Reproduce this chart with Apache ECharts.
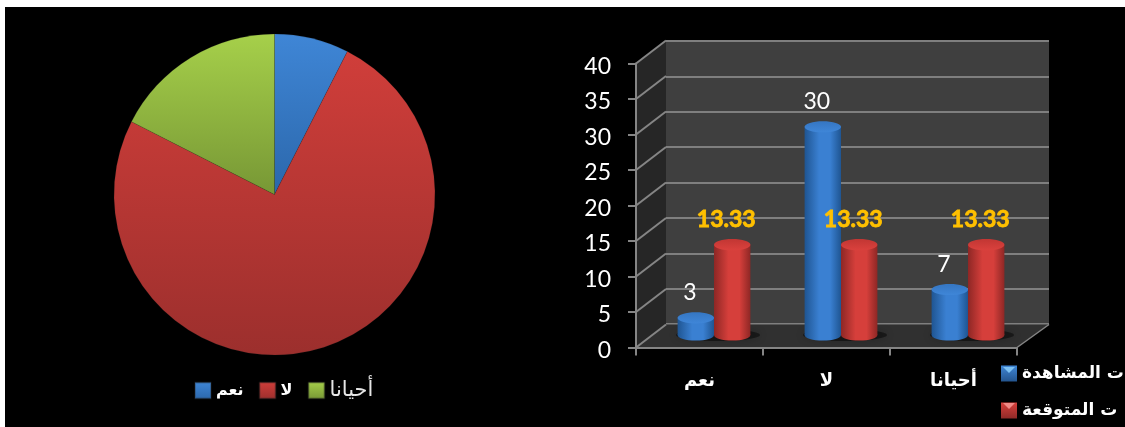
<!DOCTYPE html>
<html>
<head>
<meta charset="utf-8">
<style>
  html, body { margin: 0; padding: 0; background: #fff; overflow: hidden; }
  #bg { position: absolute; left: 5px; top: 7px; right: 0; bottom: 0; background: #000; }
  #chart { position: absolute; left: 0; top: 0; width: 1125px; height: 427px; }
</style>
</head>
<body>
<div id="bg"></div>
<div id="chart"></div>
<script src="https://cdn.jsdelivr.net/npm/echarts@6/dist/echarts.min.js"></script>
<script>
const categories = ['نعم', 'لا', 'أحيانا']
const observed = [3, 30, 7]
const expected = [13.33, 13.33, 13.33]
const yTicks = [0, 5, 10, 15, 20, 25, 30, 35, 40]
const observedName = 'ت المشاهدة'
const expectedName = 'ت المتوقعة'

const vGrad = (top, bottom) => new echarts.graphic.LinearGradient(0, 0, 0, 1, [
  { offset: 0, color: top },
  { offset: 1, color: bottom }
])
const hGrad = (edge, mid) => new echarts.graphic.LinearGradient(0, 0, 1, 0, [
  { offset: 0, color: edge },
  { offset: 0.4, color: mid },
  { offset: 0.7, color: mid },
  { offset: 1, color: edge }
])

// 3d depth of the box, back wall relative to the front axes
const DX = 30
const DY = -23
const AXIS_GRAY = '#858585'

const renderWalls = (params, api) => {
  const v = api.value(0)
  const half = api.size([1, 0])[0] / 2
  const p = api.coord([0, v])
  const x0 = p[0] - half
  const x1 = x0 + half * 6
  const y = p[1]
  const children = []
  if (params.dataIndex === 0) {
    const top = api.coord([0, yTicks[yTicks.length - 1]])[1]
    children.push({
      type: 'polygon', z2: 1,
      shape: { points: [[x0, y], [x0 + DX, y + DY], [x0 + DX, top + DY], [x0, top]] },
      style: { fill: '#262626' }
    }, {
      type: 'polygon', z2: 1,
      shape: { points: [[x0, y], [x1, y], [x1 + DX + 2, y + DY], [x0 + DX, y + DY]] },
      style: { fill: '#303030' }
    }, {
      type: 'line', z2: 2,
      shape: { x1: x1, y1: y, x2: x1 + DX + 2, y2: y + DY },
      style: { stroke: AXIS_GRAY, lineWidth: 1.5 }
    })
  }
  children.push({
    type: 'line', z2: 3,
    shape: { x1: x0, y1: y, x2: x0 + DX, y2: y + DY },
    style: { stroke: AXIS_GRAY, lineWidth: 2 }
  })
  return { type: 'group', children }
}

const renderShadow = (params, api) => {
  const p = api.coord([api.value(0), 0])
  return {
    type: 'ellipse',
    shape: { cx: p[0] + 4, cy: p[1] - 4, rx: 42, ry: 6 },
    style: { fill: 'rgba(0,0,0,0.45)', shadowBlur: 8, shadowColor: 'rgba(0,0,0,0.5)' }
  }
}

const cylinder = (side, edge, mid, capTop, capBottom, labelColor, labelBold) => (params, api) => {
  const value = api.value(1)
  const top = api.coord([api.value(0), value])
  const base = api.coord([api.value(0), 0])
  const cx = top[0] + side * 18.2
  const rx = 18.2
  const ry = 5.6
  const by = base[1] - 4
  return {
    type: 'group',
    children: [
      { type: 'ellipse', shape: { cx, cy: by, rx, ry }, style: { fill: hGrad(edge, mid) } },
      {
        type: 'rect',
        shape: { x: cx - rx, y: top[1], width: rx * 2, height: by - top[1] },
        style: { fill: hGrad(edge, mid) }
      },
      { type: 'ellipse', shape: { cx, cy: top[1], rx, ry }, style: { fill: vGrad(capTop, capBottom) } },
      {
        type: 'text',
        style: {
          x: cx - 6, y: top[1] - 25,
          text: String(value),
          fill: labelColor,
          stroke: labelBold ? labelColor : null,
          lineWidth: labelBold ? 0.8 : 0,
          fontSize: 23,
          fontFamily: 'Lato, Carlito, sans-serif',
          fontWeight: labelBold ? 'bold' : 'normal',
          align: 'center',
          verticalAlign: 'middle'
        }
      }
    ]
  }
}

const chart = echarts.init(document.getElementById('chart'))

const blueSwatch = vGrad('#3f86d6', '#24558f')
const redSwatch = vGrad('#d8403c', '#8f2a28')

const swatchTip = (left, top, color) => ({
  type: 'polygon', z: 20, silent: true,
  shape: { points: [[left + 2, top + 2], [left + 14, top + 2], [left + 8, top + 8]] },
  style: { fill: color }
})

chart.setOption({
  backgroundColor: 'transparent',
  animation: false,
  graphic: [
    swatchTip(1001, 365, '#7cc0f2'),
    swatchTip(1001, 401, '#f08a86')
  ],
  legend: [
    {
      left: 194, top: 380, padding: 0,
      itemWidth: 16, itemHeight: 16, itemGap: 15,
      selectedMode: false,
      textStyle: { color: '#fff', fontFamily: 'DejaVu Sans', fontSize: 16 },
      data: [
        { name: categories[0], icon: 'rect', textStyle: { fontWeight: 'bold' } },
        { name: categories[1], icon: 'rect', textStyle: { fontWeight: 'bold' } },
        { name: categories[2], icon: 'rect', textStyle: { fontWeight: 'normal', fontSize: 21, color: '#e6e6e6' } }
      ]
    },
    {
      left: 1001, top: 365, padding: 0,
      orient: 'vertical',
      itemWidth: 16, itemHeight: 16, itemGap: 20,
      selectedMode: false,
      textStyle: { color: '#fff', fontFamily: 'DejaVu Sans', fontSize: 17, fontWeight: 'bold' },
      data: [
        { name: observedName, icon: 'rect', itemStyle: { color: blueSwatch } },
        { name: expectedName, icon: 'rect', itemStyle: { color: redSwatch } }
      ]
    }
  ],
  grid: [
    { left: 636, top: 63.5, width: 381, height: 284 },                         // front axes
    { left: 666, top: 41, width: 383, height: 283, show: true, backgroundColor: '#3f3f3f', borderWidth: 0 }, // back wall
    { left: 650.5, top: 56, width: 381, height: 283 }                          // bars, mid depth
  ],
  xAxis: [
    {
      gridIndex: 0, type: 'category', data: categories,
      axisLine: { lineStyle: { color: AXIS_GRAY, width: 2 } },
      axisTick: { show: true, length: 8, lineStyle: { color: AXIS_GRAY, width: 2 } },
      axisLabel: { color: '#fff', fontFamily: 'DejaVu Sans', fontSize: 18, fontWeight: 'bold', margin: 25 },
      z: 5
    },
    { gridIndex: 1, type: 'category', data: categories, show: false },
    { gridIndex: 2, type: 'category', data: categories, show: false }
  ],
  yAxis: [
    {
      gridIndex: 0, type: 'value', min: 0, max: 40, interval: 5,
      axisLine: { show: true, lineStyle: { color: AXIS_GRAY, width: 2 } },
      axisTick: { show: true, length: 8, lineStyle: { color: AXIS_GRAY, width: 2 } },
      axisLabel: {
        color: '#fff', fontFamily: 'Lato, Carlito, sans-serif', fontSize: 23, margin: 25,
        verticalAlign: 'top', lineHeight: 6
      },
      splitLine: { show: false },
      z: 5
    },
    {
      gridIndex: 1, type: 'value', min: 0, max: 40, interval: 5,
      axisLine: { show: false }, axisTick: { show: false }, axisLabel: { show: false },
      splitLine: { show: true, lineStyle: { color: '#7f7f7f', width: 2 } }
    },
    {
      gridIndex: 2, type: 'value', min: 0, max: 40, interval: 5,
      axisLine: { show: false }, axisTick: { show: false }, axisLabel: { show: false },
      splitLine: { show: false }
    }
  ],
  series: [
    {
      type: 'pie',
      center: [274.5, 194.5],
      radius: 160.5,
      startAngle: 90,
      label: { show: false },
      labelLine: { show: false },
      silent: true,
      itemStyle: { borderColor: 'rgba(40,40,40,0.3)', borderWidth: 0.5 },
      data: [
        { name: categories[0], value: observed[0], itemStyle: { color: vGrad('#3f86d6', '#2b67ab') } },
        { name: categories[1], value: observed[1], itemStyle: { color: vGrad('#d03e3a', '#9c2f2d') } },
        { name: categories[2], value: observed[2], itemStyle: { color: vGrad('#a6d04a', '#779735') } }
      ]
    },
    {
      type: 'custom', name: 'walls', xAxisIndex: 0, yAxisIndex: 0, z: 1, silent: true,
      data: yTicks.map(v => [v]),
      encode: { y: 0 },
      renderItem: renderWalls
    },
    {
      type: 'custom', name: 'shadow', xAxisIndex: 2, yAxisIndex: 2, z: 2, silent: true,
      data: categories.map((c, i) => [i]),
      encode: { x: 0 },
      renderItem: renderShadow
    },
    {
      type: 'custom', name: observedName, xAxisIndex: 2, yAxisIndex: 2, z: 3, silent: true,
      data: observed.map((v, i) => [i, v]),
      encode: { x: 0, y: 1 },
      renderItem: cylinder(-1, '#1f5592', '#3a80d2', '#3576c2', '#3f86d8', '#ffffff', false)
    },
    {
      type: 'custom', name: expectedName, xAxisIndex: 2, yAxisIndex: 2, z: 4, silent: true,
      data: expected.map((v, i) => [i, v]),
      encode: { x: 0, y: 1 },
      renderItem: cylinder(1, '#8e2725', '#d63f3b', '#c23633', '#da413d', '#ffc000', true)
    }
  ]
})
</script>
</body>
</html>
